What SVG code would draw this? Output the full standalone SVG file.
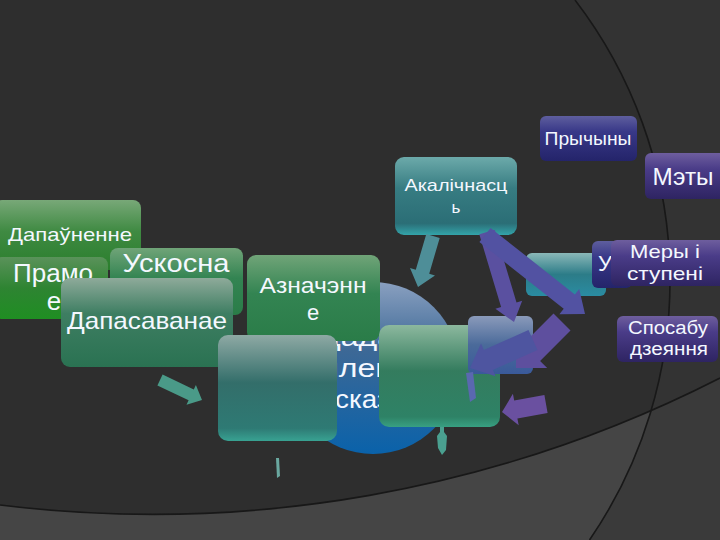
<svg xmlns="http://www.w3.org/2000/svg" width="720" height="540" viewBox="0 0 720 540">
<defs>
<style>
.t{font-family:"Liberation Sans",Arial,sans-serif;fill:#f4f8ff;text-anchor:middle}
.c{font-family:"Liberation Sans",Arial,sans-serif;fill:#f4f8ff;font-size:26px}
.arc{fill:none;stroke:#181818;stroke-width:1.6}
</style>
<linearGradient id="gGreen1" x1="0" y1="0" x2="0" y2="1"><stop offset="0" stop-color="#78a878"/><stop offset="0.45" stop-color="#3f8a42"/><stop offset="1" stop-color="#2a7e2c"/></linearGradient>
<linearGradient id="gGreenB" x1="0" y1="0" x2="0" y2="1"><stop offset="0" stop-color="#5a925a"/><stop offset="0.5" stop-color="#2e8432"/><stop offset="1" stop-color="#1f8e22"/></linearGradient>
<linearGradient id="gGreen2" x1="0" y1="0" x2="0" y2="1"><stop offset="0" stop-color="#8eaa9a"/><stop offset="0.4" stop-color="#3e7e62"/><stop offset="1" stop-color="#2a7252"/></linearGradient>
<linearGradient id="gGreen3" x1="0" y1="0" x2="0" y2="1"><stop offset="0" stop-color="#70a478"/><stop offset="0.45" stop-color="#338452"/><stop offset="1" stop-color="#2a7c48"/></linearGradient>
<linearGradient id="gTeal" x1="0" y1="0" x2="0" y2="1"><stop offset="0" stop-color="#8ea9a4"/><stop offset="0.45" stop-color="#336e6a"/><stop offset="0.88" stop-color="#2e7a74"/><stop offset="1" stop-color="#38a292"/></linearGradient>
<linearGradient id="gGT" x1="0" y1="0" x2="0" y2="1"><stop offset="0" stop-color="#8cb89e"/><stop offset="0.45" stop-color="#347c5e"/><stop offset="0.9" stop-color="#2e8266"/><stop offset="1" stop-color="#38a082"/></linearGradient>
<linearGradient id="gAkal" x1="0" y1="0" x2="0" y2="1"><stop offset="0" stop-color="#6caaaa"/><stop offset="0.4" stop-color="#377c82"/><stop offset="0.85" stop-color="#2b6e76"/><stop offset="1" stop-color="#33a4aa"/></linearGradient>
<linearGradient id="gTeal2" x1="0" y1="0" x2="0" y2="1"><stop offset="0" stop-color="#8ab8b8"/><stop offset="0.5" stop-color="#2c7c88"/><stop offset="1" stop-color="#2a8ca2"/></linearGradient>
<linearGradient id="gIndigo" x1="0" y1="0" x2="0" y2="1"><stop offset="0" stop-color="#5e5e9e"/><stop offset="0.35" stop-color="#383888"/><stop offset="1" stop-color="#24246a"/></linearGradient>
<linearGradient id="gPurple" x1="0" y1="0" x2="0" y2="1"><stop offset="0" stop-color="#6e5e9e"/><stop offset="0.35" stop-color="#4a3c88"/><stop offset="1" stop-color="#2e2462"/></linearGradient>
<linearGradient id="gSlate" x1="0" y1="0" x2="0" y2="1"><stop offset="0" stop-color="#8a9aba"/><stop offset="0.5" stop-color="#4a6a9a"/><stop offset="1" stop-color="#3a5a9a"/></linearGradient>
<linearGradient id="gCircle" x1="0" y1="0" x2="0" y2="1"><stop offset="0" stop-color="#8aa0c0"/><stop offset="0.4" stop-color="#3c6896"/><stop offset="1" stop-color="#0a62aa"/></linearGradient>
<clipPath id="cBottom"><path d="M0,505 A1249,1249 0 0 0 720,378 L720,540 L0,540 Z"/></clipPath>
</defs>

<g id="background">
<rect width="720" height="540" fill="#2e2e2e"/>
<path d="M575,0 A460,460 0 0 1 589.5,540 L720,540 L720,0 Z" fill="#333333"/>
<path d="M0,505 A1249,1249 0 0 0 720,378 L720,540 L0,540 Z" fill="#454545"/>
<path d="M575,0 A460,460 0 0 1 589.5,540 L720,540 L720,0 Z" fill="#3a3a3a" clip-path="url(#cBottom)"/>
<path class="arc" d="M575,0 A460,460 0 0 1 589.5,540"/>
<path class="arc" d="M0,505 A1249,1249 0 0 0 720,378"/>
</g>

<g id="center">
<circle cx="373" cy="368" r="86" fill="url(#gCircle)"/>
<text class="c" x="319" y="346" textLength="134" lengthAdjust="spacingAndGlyphs">Даданыя</text>
<text class="c" x="322" y="377" textLength="94" lengthAdjust="spacingAndGlyphs">члены</text>
<text class="c" x="335" y="408" textLength="70" lengthAdjust="spacingAndGlyphs">сказа</text>
</g>

<g id="dapaunenne">
<rect x="-6" y="200" width="147" height="70" rx="8" fill="url(#gGreen1)"/>
<text class="t" x="70" y="241" font-size="19" textLength="124" lengthAdjust="spacingAndGlyphs">Дапаўненне</text>
</g>
<g id="pramoe">
<rect x="-6" y="257" width="114" height="62" rx="8" fill="url(#gGreenB)"/>
<text class="t" x="53" y="282" font-size="26" textLength="80" lengthAdjust="spacingAndGlyphs">Прамо</text>
<text class="t" x="54" y="310" font-size="26">е</text>
</g>
<g id="uskosnae">
<rect x="110" y="248" width="133" height="67" rx="8" fill="url(#gGreen3)"/>
<text class="t" x="176" y="272" font-size="26" textLength="107" lengthAdjust="spacingAndGlyphs">Ускосна</text>
</g>
<g id="dapasavanae">
<rect x="61" y="278" width="172" height="89" rx="9" fill="url(#gGreen2)"/>
<text class="t" x="147" y="329" font-size="24" textLength="160" lengthAdjust="spacingAndGlyphs">Дапасаванае</text>
</g>
<g id="aznachenne">
<rect x="247" y="255" width="133" height="86" rx="9" fill="url(#gGreen3)"/>
<text class="t" x="313" y="293" font-size="22" textLength="107" lengthAdjust="spacingAndGlyphs">Азначэнн</text>
<text class="t" x="313" y="320" font-size="22">е</text>
</g>

<g id="akalichnasc">
<rect x="395" y="157" width="122" height="78" rx="9" fill="url(#gAkal)"/>
<text class="t" x="456" y="191" font-size="17" textLength="103" lengthAdjust="spacingAndGlyphs">Акалічнасц</text>
<text class="t" x="456" y="213" font-size="17">ь</text>
</g>
<g id="prychyny">
<rect x="540" y="116" width="97" height="45" rx="6" fill="url(#gIndigo)"/>
<text class="t" x="588" y="145" font-size="18" textLength="87" lengthAdjust="spacingAndGlyphs">Прычыны</text>
</g>
<g id="mety">
<rect x="645" y="153" width="82" height="46" rx="6" fill="url(#gPurple)"/>
<text class="t" x="683" y="185" font-size="23" textLength="61" lengthAdjust="spacingAndGlyphs">Мэты</text>
</g>

<g id="blank-teal">
<rect x="526" y="253" width="80" height="43" rx="6" fill="url(#gTeal2)"/>
</g>
<g id="blank-1">
<rect x="218" y="335" width="119" height="106" rx="10" fill="url(#gTeal)"/>
</g>
<g id="blank-2">
<rect x="379" y="325" width="121" height="102" rx="10" fill="url(#gGT)"/>
</g>
<g id="slate-box">
<rect x="468" y="316" width="65" height="58" rx="6" fill="url(#gSlate)"/>
</g>

<g id="connectors">
<polygon fill="#4e8e98" points="439.7,238 429.2,273.7 435,275.4 418,287 410,268 415.8,269.7 426.3,234"/>
<polygon fill="#5a50a0" points="479.3,234.3 501.1,307.1 495.4,308.8 514,322 522.2,300.8 516.5,302.5 494.7,229.7"/>
<polygon fill="#5252a2" points="479.4,242.1 563.7,308.7 559.4,314.2 585,314 579.2,289 574.9,294.5 490.6,227.9"/>
<polygon fill="#5e4f9e" points="553.5,313.5 523.1,343.9 516,336.8 516,368 547.2,368 540.1,360.9 570.5,330.5"/>
<polygon fill="#4e55a0" points="528.5,330 483.8,349.9 481,343.5 470,368 495.6,376.3 492.8,369.9 537.5,350"/>
<polygon fill="#5a68b0" points="466,373 473,372 476,398 470,402"/>
<polygon fill="#6a50a0" points="544.4,395.1 514.2,400.6 512.9,393.8 502,412 518.7,425.2 517.4,418.4 547.6,412.9"/>
<polygon fill="#4a9a88" points="157.4,385.4 188.6,400.2 186.5,404.7 202,400 195.9,384.9 193.8,389.4 162.6,374.6"/>
<polygon fill="#6aa8a0" points="276,458 279,458 280,476 277,478"/>
<polygon fill="#4aa090" points="440,427 444,427 444,432 447,436 446,450 442,455 438,448 437,436 440,432"/>
</g>

<g id="umovy">
<rect x="592" y="241" width="40" height="47" rx="6" fill="url(#gIndigo)"/>
<text class="t" x="605" y="271" font-size="22">У</text>
</g>
<g id="mery">
<rect x="611" y="240" width="115" height="46" rx="6" fill="url(#gPurple)"/>
<text class="t" x="665" y="258" font-size="19" textLength="70" lengthAdjust="spacingAndGlyphs">Меры і</text>
<text class="t" x="665" y="280" font-size="19" textLength="76" lengthAdjust="spacingAndGlyphs">ступені</text>
</g>
<g id="sposabu">
<rect x="617" y="316" width="101" height="46" rx="6" fill="url(#gPurple)"/>
<text class="t" x="668" y="334" font-size="18" textLength="80" lengthAdjust="spacingAndGlyphs">Спосабу</text>
<text class="t" x="669" y="355" font-size="18" textLength="78" lengthAdjust="spacingAndGlyphs">дзеяння</text>
</g>
</svg>
